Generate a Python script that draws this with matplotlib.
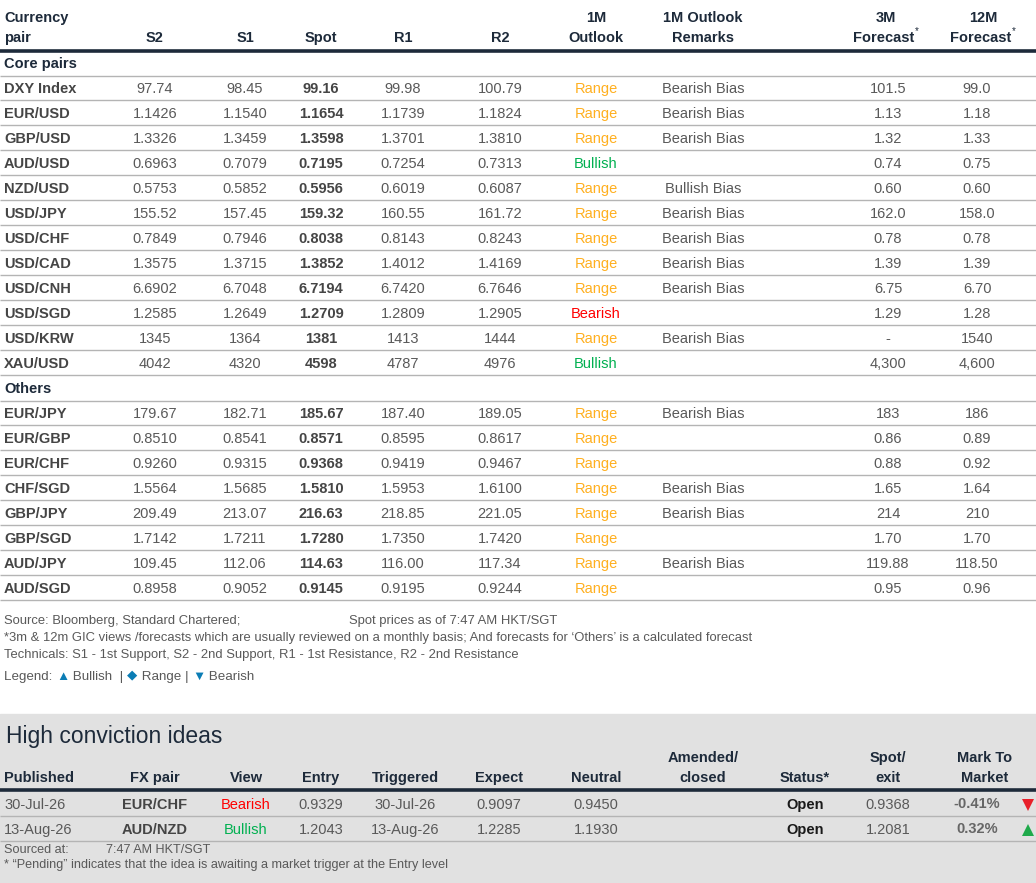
import matplotlib
matplotlib.use('Agg')
import matplotlib.pyplot as plt

plt.rcParams['font.family'] = ['Liberation Sans', 'DejaVu Sans']

# ---- main table data ----
core_pairs = ['DXY Index', 'EUR/USD', 'GBP/USD', 'AUD/USD', 'NZD/USD', 'USD/JPY', 'USD/CHF',
              'USD/CAD', 'USD/CNH', 'USD/SGD', 'USD/KRW', 'XAU/USD']
core_s2 = ['97.74', '1.1426', '1.3326', '0.6963', '0.5753', '155.52', '0.7849', '1.3575', '6.6902', '1.2585', '1345', '4042']
core_s1 = ['98.45', '1.1540', '1.3459', '0.7079', '0.5852', '157.45', '0.7946', '1.3715', '6.7048', '1.2649', '1364', '4320']
core_spot = ['99.16', '1.1654', '1.3598', '0.7195', '0.5956', '159.32', '0.8038', '1.3852', '6.7194', '1.2709', '1381', '4598']
core_r1 = ['99.98', '1.1739', '1.3701', '0.7254', '0.6019', '160.55', '0.8143', '1.4012', '6.7420', '1.2809', '1413', '4787']
core_r2 = ['100.79', '1.1824', '1.3810', '0.7313', '0.6087', '161.72', '0.8243', '1.4169', '6.7646', '1.2905', '1444', '4976']
core_outlook = ['Range', 'Range', 'Range', 'Bullish', 'Range', 'Range', 'Range', 'Range', 'Range', 'Bearish', 'Range', 'Bullish']
core_remarks = ['Bearish Bias', 'Bearish Bias', 'Bearish Bias', '', 'Bullish Bias', 'Bearish Bias', 'Bearish Bias',
                'Bearish Bias', 'Bearish Bias', '', 'Bearish Bias', '']
core_f3m = ['101.5', '1.13', '1.32', '0.74', '0.60', '162.0', '0.78', '1.39', '6.75', '1.29', '-', '4,300']
core_f12m = ['99.0', '1.18', '1.33', '0.75', '0.60', '158.0', '0.78', '1.39', '6.70', '1.28', '1540', '4,600']

other_pairs = ['EUR/JPY', 'EUR/GBP', 'EUR/CHF', 'CHF/SGD', 'GBP/JPY', 'GBP/SGD', 'AUD/JPY', 'AUD/SGD']
other_s2 = ['179.67', '0.8510', '0.9260', '1.5564', '209.49', '1.7142', '109.45', '0.8958']
other_s1 = ['182.71', '0.8541', '0.9315', '1.5685', '213.07', '1.7211', '112.06', '0.9052']
other_spot = ['185.67', '0.8571', '0.9368', '1.5810', '216.63', '1.7280', '114.63', '0.9145']
other_r1 = ['187.40', '0.8595', '0.9419', '1.5953', '218.85', '1.7350', '116.00', '0.9195']
other_r2 = ['189.05', '0.8617', '0.9467', '1.6100', '221.05', '1.7420', '117.34', '0.9244']
other_outlook = ['Range'] * 8
other_remarks = ['Bearish Bias', '', '', 'Bearish Bias', 'Bearish Bias', '', 'Bearish Bias', '']
other_f3m = ['183', '0.86', '0.88', '1.65', '214', '1.70', '119.88', '0.95']
other_f12m = ['186', '0.89', '0.92', '1.64', '210', '1.70', '118.50', '0.96']

# ---- high conviction ideas ----
hc_published = ['30-Jul-26', '13-Aug-26']
hc_pair = ['EUR/CHF', 'AUD/NZD']
hc_view = ['Bearish', 'Bullish']
hc_entry = ['0.9329', '1.2043']
hc_triggered = ['30-Jul-26', '13-Aug-26']
hc_expect = ['0.9097', '1.2285']
hc_neutral = ['0.9450', '1.1930']
hc_amended = ['', '']
hc_status = ['Open', 'Open']
hc_spot_exit = ['0.9368', '1.2081']
hc_mtm = ['-0.41%', '0.32%']

NAVY = '#1d2a3a'
VAL = '#595959'
LBL = '#454545'
LINE = '#b4b4b4'
OUTLOOK_COLORS = {'Range': '#ffb020', 'Bullish': '#00b050', 'Bearish': '#ff0000'}

W, H = 1036, 883
fig = plt.figure(figsize=(W / 100, H / 100), dpi=100)
ax = fig.add_axes([0, 0, 1, 1])
ax.set_xlim(0, W)
ax.set_ylim(H, 0)
ax.axis('off')

FS = 10.5
FN = 9.4
renderer = fig.canvas.get_renderer()


def txt(x, y, s, ha='center', color=VAL, weight='normal', size=FS, **kw):
    # y is the visual middle of the capital letters; place on baseline so descenders don't shift text
    return ax.text(x, y + size * 0.55, s, ha=ha, va='baseline', color=color, fontweight=weight,
                   fontsize=size, **kw)


def text_width(t):
    bb = t.get_window_extent(renderer=renderer)
    return bb.width


def hline(y, lw=1.0, color=LINE):
    ax.plot([0, W], [y, y], color=color, lw=lw, solid_capstyle='butt')


def pieces(x, y, parts, size=9):
    # draw a sequence of (text, color, dy) pieces left to right
    for s, c, dy in parts:
        t = txt(x, y + dy, s, ha='left', color=c, size=size)
        x += text_width(t)


# column centres
col_x = [155, 245, 321, 403, 500, 596, 703, 888, 977]

# header
txt(4, 16.5, 'Currency', ha='left', color=NAVY, weight='bold')
txt(4, 36.5, 'pair', ha='left', color=NAVY, weight='bold')
for x, s in zip(col_x[:5], ['S2', 'S1', 'Spot', 'R1', 'R2']):
    txt(x, 36.5, s, color=NAVY, weight='bold')
txt(596, 16.5, '1M', color=NAVY, weight='bold')
txt(596, 36.5, 'Outlook', color=NAVY, weight='bold')
txt(703, 16.5, '1M Outlook', color=NAVY, weight='bold')
txt(703, 36.5, 'Remarks', color=NAVY, weight='bold')
for x, s in [(886, '3M'), (983, '12M')]:
    txt(x, 16.5, s, color=NAVY, weight='bold')
for x in [884, 981]:
    t = txt(x, 36.5, 'Forecast', color=NAVY, weight='bold')
    wd = text_width(t)
    txt(x + wd / 2 + 0.5, 30, '*', ha='left', color=NAVY, size=7)
hline(50.5, lw=2.6, color=NAVY)


def draw_section(y0, title, pairs, s2, s1, spot, r1, r2, outlook, remarks, f3m, f12m):
    txt(4, y0, title, ha='left', color=NAVY, weight='bold')
    hline(y0 + 13)
    for i, p in enumerate(pairs):
        y = y0 + 25 * (i + 1)
        txt(4, y, p, ha='left', color=LBL, weight='bold')
        vals = [s2[i], s1[i], spot[i], r1[i], r2[i]]
        for j, v in enumerate(vals):
            txt(col_x[j], y, v, weight='bold' if j == 2 else 'normal', color=LBL if j == 2 else VAL)
        txt(col_x[5], y, outlook[i], color=OUTLOOK_COLORS[outlook[i]])
        txt(col_x[6], y, remarks[i])
        txt(col_x[7], y, f3m[i])
        txt(col_x[8], y, f12m[i])
        hline(y + 12.5)
    return y0 + 25 * (len(pairs) + 1)


y_next = draw_section(62.5, 'Core pairs', core_pairs, core_s2, core_s1, core_spot, core_r1, core_r2,
                      core_outlook, core_remarks, core_f3m, core_f12m)
draw_section(y_next, 'Others', other_pairs, other_s2, other_s1, other_spot, other_r1, other_r2,
             other_outlook, other_remarks, other_f3m, other_f12m)

# footnotes
txt(4, 619, 'Source: Bloomberg, Standard Chartered;', ha='left', size=FN)
txt(349, 619, 'Spot prices as of 7:47 AM HKT/SGT', ha='left', size=FN)
txt(4, 636, "*3m & 12m GIC views /forecasts which are usually reviewed on a monthly basis; And forecasts for \u2018Others\u2019 is a calculated forecast",
    ha='left', size=FN)
txt(4, 653, 'Technicals: S1 - 1st Support, S2 - 2nd Support, R1 - 1st Resistance, R2 - 2nd Resistance', ha='left', size=FN)
BLUE = '#0b7db5'
pieces(4, 675, [('Legend: ', VAL, 0), ('\u25b2', BLUE, -0.5), (' Bullish  | ', VAL, 0), ('\u25c6', BLUE, -2),
                (' Range | ', VAL, 0), ('\u25bc', BLUE, -0.5), (' Bearish', VAL, 0)], size=FN + 0.2)

# high conviction ideas box
ax.add_patch(plt.Rectangle((0, 714), W, H - 714, color='#e1e1e1', zorder=0))
txt(6, 734, 'High conviction ideas', ha='left', color=NAVY, size=16.5)

hc_x = [155, 246, 321, 405, 499, 596, 703, 805, 888, 985]
txt(4, 776.5, 'Published', ha='left', color=NAVY, weight='bold')
for x, s in zip(hc_x, ['FX pair', 'View', 'Entry', 'Triggered', 'Expect', 'Neutral', 'closed', 'Status*', 'exit', 'Market']):
    txt(x, 776.5, s, color=NAVY, weight='bold')
for x, s in [(703, 'Amended/'), (888, 'Spot/'), (985, 'Mark To')]:
    txt(x, 756.5, s, color=NAVY, weight='bold')
hline(790, lw=2.6, color=NAVY)

for i in range(len(hc_published)):
    y = 803 + 25 * i
    txt(4, y, hc_published[i], ha='left')
    txt(hc_x[0], y, hc_pair[i], color=LBL, weight='bold')
    txt(hc_x[1], y, hc_view[i], color=OUTLOOK_COLORS[hc_view[i]])
    txt(hc_x[2], y, hc_entry[i])
    txt(hc_x[3], y, hc_triggered[i])
    txt(hc_x[4], y, hc_expect[i])
    txt(hc_x[5], y, hc_neutral[i])
    txt(hc_x[6], y, hc_amended[i])
    txt(hc_x[7], y, hc_status[i], color='#1a1a1a', weight='bold')
    txt(hc_x[8], y, hc_spot_exit[i])
    txt(977, y - 1, hc_mtm[i], color='#666666', weight='bold')
    up = not hc_mtm[i].startswith('-')
    ax.plot(1028, y + 1.5, marker='^' if up else 'v', ms=9,
            color='#1faa4b' if up else '#e8202a', mew=0)
    hline(y + 12.5)

txt(4, 847.5, 'Sourced at:', ha='left', size=9.1)
txt(106, 847.5, '7:47 AM HKT/SGT', ha='left', size=9.1)
txt(4, 863, '* \u201cPending\u201d indicates that the idea is awaiting a market trigger at the Entry level', ha='left',
    size=9.1)

plt.savefig('out.png', dpi=100)
